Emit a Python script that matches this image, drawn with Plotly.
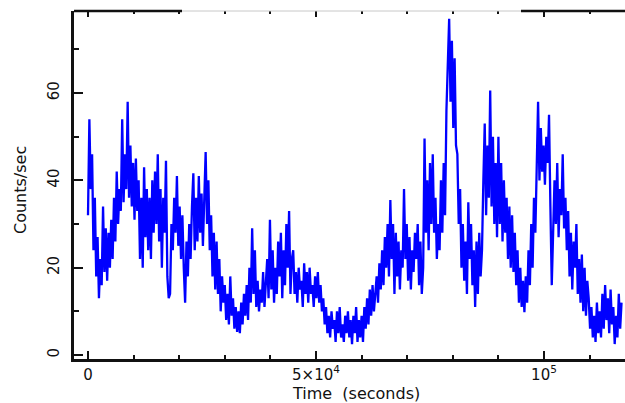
import plotly.graph_objects as go

# Light curve: counts/sec in consecutive 300 s time bins
BIN_SECONDS = 300
counts = [
    32, 54, 38, 46, 24, 36, 18, 27, 13, 22,
    16, 34, 19, 29, 17, 28, 20, 31, 22, 36,
    26, 42, 30, 38, 33, 54, 35, 46, 38, 58,
    36, 48, 34, 44, 31, 45, 33, 40, 22, 36,
    20, 43, 27, 38, 24, 36, 22, 40, 28, 42,
    30, 46, 26, 38, 20, 36, 28, 44.5, 18, 13,
    14, 30, 24, 36, 28, 41, 25, 34, 22, 32,
    20, 12, 26, 18, 30, 22, 34, 41.6, 24, 36,
    26, 41, 28, 37, 25, 38, 46.5, 30, 40, 24,
    32, 18, 28, 15, 26, 14, 22, 10, 18, 12,
    16, 8, 14, 7, 18, 9, 13, 6, 11, 5.3,
    10, 5, 12, 7, 14, 9, 16, 8, 20, 12,
    29, 14, 24, 11, 17, 10, 15, 12, 19, 11,
    16, 22, 13, 31, 15, 24, 12, 20, 14, 26,
    18, 28, 13, 24, 16, 30, 20, 33, 14, 22,
    24, 14, 19, 12, 20, 15, 17, 11, 21, 14,
    19, 12, 20, 14, 16, 11, 18, 13, 19, 12,
    16, 10, 13, 7, 11, 5, 9, 4, 10, 6,
    8, 3, 10, 5, 11, 4, 7, 3, 9, 5,
    10, 4, 8, 2.5, 9, 5, 11, 3, 8, 4,
    9, 3, 11, 6, 13, 7, 15, 9, 16, 10,
    14, 18, 12, 21, 15, 24, 16, 27, 20, 30,
    18, 35.5, 22, 30, 14, 28, 18, 26, 15, 24,
    20, 38, 22, 30, 17, 27, 15, 24, 19, 28,
    22, 30, 16, 26, 14, 20, 49.6, 28, 40, 24,
    44, 30, 46, 28, 36, 22, 30, 24, 40, 28,
    44, 32, 56, 66, 77, 58, 72, 52, 68, 48,
    46, 30, 38, 20, 30, 17, 26, 14, 35, 22,
    30, 16, 24, 11, 26, 14, 28, 18, 24, 40,
    53, 32, 48, 36, 60.6, 34, 50, 30, 44, 27,
    50, 30, 44, 26, 40, 28, 36, 22, 34, 20,
    32, 19, 28, 16, 24, 12, 20, 11, 17, 9.8,
    18, 12, 24, 16, 30, 20, 36, 28, 45, 58,
    40, 52, 42, 48, 39, 50, 44, 55, 34, 16,
    28, 40, 30, 44, 27, 38, 32, 46, 29, 36,
    24, 33, 18, 28, 15, 26, 20, 30, 14, 22,
    12, 23, 10, 20, 9, 17, 13, 6, 11, 4,
    9, 3, 12, 5, 10, 4, 14, 6, 16, 8,
    13, 5, 15, 7, 11, 2.5, 9, 4, 14, 6,
    12,
]
time_s = [i * BIN_SECONDS for i in range(len(counts))]

x_tick_vals = [0, 50000, 100000]
x_tick_text = ["0", "5\u00d710<sup>4</sup>", "10<sup>5</sup>"]
y_tick_vals = [0, 20, 40, 60]
y_tick_text = ["0", "20", "40", "60"]
x_title = "Time\u00a0 (seconds)"
y_title = "Counts/sec"

X_RANGE = [-3070, 117760]
Y_RANGE = [-0.92, 78.8]

fig = go.Figure()
fig.add_trace(go.Scatter(
    x=time_s, y=counts, mode="lines",
    line=dict(color="#0000ff", width=2.3),
    showlegend=False, hoverinfo="skip",
))
# invisible trace to activate the top x-axis (tick marks only)
fig.add_trace(go.Scatter(x=[time_s[0]], y=[counts[0]], xaxis="x2", mode="lines",
                         line=dict(width=0), showlegend=False, hoverinfo="skip"))

tick_font = dict(family="DejaVu Sans, Liberation Sans, sans-serif", size=15, color="#111")
title_font = dict(family="DejaVu Sans, sans-serif", size=16, color="#111")

fig.update_layout(
    width=625, height=403,
    margin=dict(l=74, r=0, t=11, b=44),
    paper_bgcolor="white", plot_bgcolor="white",
    xaxis=dict(
        range=X_RANGE, showgrid=False, zeroline=False,
        showline=True, linecolor="#111", linewidth=2.5, mirror=False,
        tickmode="array", tickvals=x_tick_vals, ticktext=x_tick_text,
        ticks="inside", ticklen=8, tickwidth=1.5, tickcolor="#111",
        minor=dict(dtick=10000, ticks="inside", ticklen=4, tickwidth=1.5, tickcolor="#111"),
        tickfont=tick_font, ticklabelstandoff=0,
    ),
    xaxis2=dict(
        range=X_RANGE, overlaying="x", side="top", showgrid=False, zeroline=False,
        showline=False, showticklabels=False,
        tickmode="array", tickvals=x_tick_vals,
        ticks="inside", ticklen=6, tickwidth=1.5, tickcolor="#111",
        minor=dict(dtick=10000, ticks="inside", ticklen=3, tickwidth=1.5, tickcolor="#111"),
    ),
    yaxis=dict(
        range=Y_RANGE, showgrid=False, zeroline=False,
        showline=True, linecolor="#111", linewidth=2.5, mirror=False,
        tickmode="array", tickvals=y_tick_vals, ticktext=y_tick_text,
        ticks="inside", ticklen=9, tickwidth=1.5, tickcolor="#111",
        minor=dict(dtick=10, ticks="inside", ticklen=5, tickwidth=1.5, tickcolor="#111"),
        tickangle=-90, tickfont=tick_font, ticklabelstandoff=6,
    ),
    annotations=[
        dict(text=x_title, xref="paper", yref="paper", x=(356 - 74) / 551, y=(359 - 393) / 348,
             xanchor="center", yanchor="middle", showarrow=False, font=title_font),
        dict(text=y_title, xref="paper", yref="paper", x=(20 - 74) / 551, y=(359 - 190) / 348,
             xanchor="center", yanchor="middle", showarrow=False, textangle=-90, font=title_font),
    ],
    shapes=[
        dict(type="line", xref="paper", yref="paper", x0=0, x1=(182 - 74) / 551, y0=1, y1=1,
             line=dict(color="#111", width=2.5)),
        dict(type="line", xref="paper", yref="paper", x0=(182 - 74) / 551, x1=(521 - 74) / 551, y0=1, y1=1,
             line=dict(color="#c8c8c8", width=1)),
        dict(type="line", xref="paper", yref="paper", x0=(521 - 74) / 551, x1=1, y0=1, y1=1,
             line=dict(color="#111", width=2.5)),
    ],
)

fig.write_html("out.html")
